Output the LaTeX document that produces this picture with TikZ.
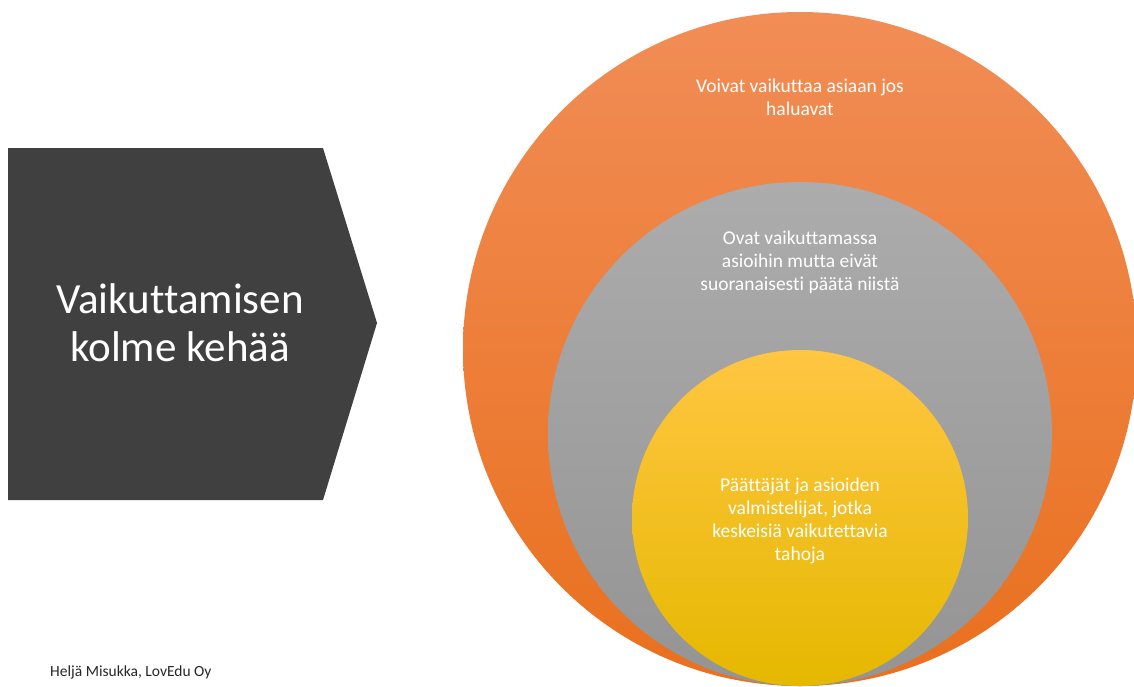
\documentclass[tikz,border=0pt]{standalone}
\usepackage{fontspec}
\setmainfont{Carlito}[Ligatures=NoCommon]
\definecolor{slate}{HTML}{404040}
\definecolor{ringtop}{RGB}{241,141,86}
\definecolor{ringbot}{RGB}{233,112,30}
\definecolor{midtop}{RGB}{172,172,172}
\definecolor{midbot}{RGB}{148,148,148}
\definecolor{coretop}{RGB}{255,198,66}
\definecolor{corebot}{RGB}{229,184,0}
\tikzset{
	disc/.style={circle, draw=none, inner sep=0pt},
	ringtext/.style={text=white, align=center, inner sep=0pt, font=\fontsize{19.5}{23}\selectfont},
}

\begin{document}
\begin{tikzpicture}[x=1pt, y=-1pt]
		%%%%% START %%%%%
		\useasboundingbox[fill=white] (0, 0) rectangle (1134, 686);
		
		\draw[fill=slate, draw=none] (8, 148) -- (323, 148) -- (377, 323) -- (323, 500) -- (8, 500) -- cycle;
		\node[text=white, align=center, inner sep=0pt, font=\fontsize{43}{48}\selectfont] (title) at (180, 323) {Vaikuttamisen\\kolme kehää};
		
		\node[disc, top color=ringtop, bottom color=ringbot, minimum size=674] (outer) at (800, 349) {};
		\node[disc, top color=midtop, bottom color=midbot, minimum size=504] (middle) at (800, 434) {};
		\node[disc, top color=coretop, bottom color=corebot, minimum size=336] (core) at (800, 518) {};
		
		\node[ringtext] (outertext) at (800, 97) {Voivat vaikuttaa asiaan jos\\haluavat};
		\node[ringtext] (middletext) at (800, 262) {Ovat vaikuttamassa\\asioihin mutta eivät\\suoranaisesti päätä niistä};
		\node[ringtext] (coretext) at (800, 521) {Päättäjät ja asioiden\\valmistelijat, jotka\\keskeisiä vaikutettavia\\tahoja};
		
		\node[anchor=west, inner sep=0pt, text=black!85, font=\fontsize{15.5}{17}\selectfont] (credit) at (50, 672) {Heljä Misukka, LovEdu Oy};
		%%%%% END %%%%%
	\end{tikzpicture}
\end{document}
